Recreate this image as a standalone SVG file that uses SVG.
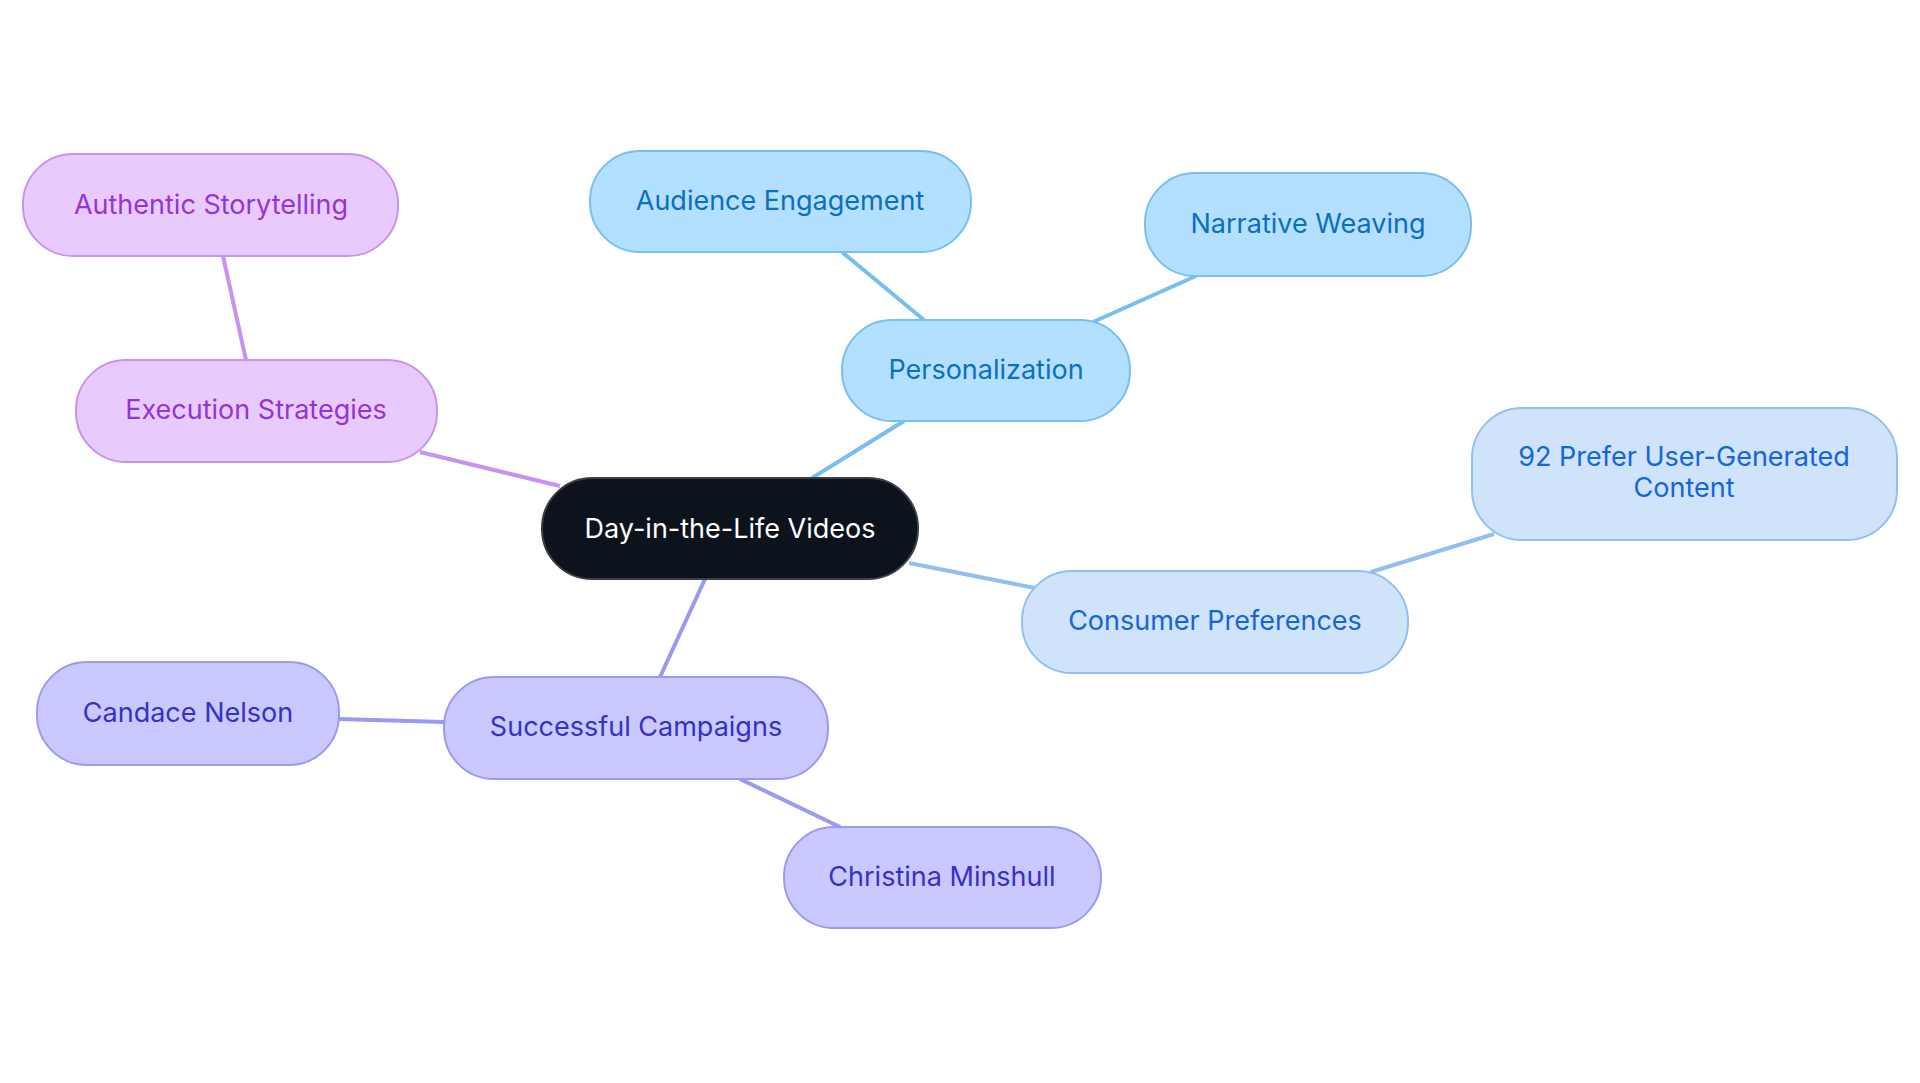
<svg xmlns="http://www.w3.org/2000/svg" width="1920" height="1083" viewBox="0 0 1920 1083">
<style>
text{font-family:Inter,"Noto Sans",sans-serif;font-size:27px;text-anchor:middle;dominant-baseline:central}
.c rect{fill:#0D131C;stroke:#3A3F47;stroke-width:2}.c text{fill:#FFFFFF}
.p rect{fill:#E8CBFC;stroke:#C892F0;stroke-width:2}.p text{fill:#9333D8}
.b rect{fill:#B3E0FF;stroke:#78BFF0;stroke-width:2}.b text{fill:#0B6FC0}
.l rect{fill:#CFE3FB;stroke:#93BFF0;stroke-width:2}.l text{fill:#1565D8}
.i rect{fill:#C9C9FF;stroke:#9A9AF0;stroke-width:2}.i text{fill:#3530C8}
#edges line{stroke-width:4}
</style>
<rect width="1920" height="1083" fill="#fff"/>
<g id="edges">
<line x1="812" y1="478" x2="904" y2="421" stroke="#78BFF0"/>
<line x1="560" y1="486" x2="420" y2="452" stroke="#C892F0"/>
<line x1="909" y1="563" x2="1035" y2="588" stroke="#93BFF0"/>
<line x1="705" y1="579" x2="660" y2="677" stroke="#9A9AF0"/>
<line x1="924" y1="320" x2="842" y2="252" stroke="#78BFF0"/>
<line x1="1093" y1="322" x2="1196" y2="276" stroke="#78BFF0"/>
<line x1="246" y1="360" x2="223" y2="256" stroke="#C892F0"/>
<line x1="1371" y1="572" x2="1494" y2="534" stroke="#93BFF0"/>
<line x1="444" y1="722" x2="339" y2="719" stroke="#9A9AF0"/>
<line x1="740" y1="779" x2="840" y2="827" stroke="#9A9AF0"/>
</g>
<g id="center" class="c"><rect x="542" y="478" width="376" height="101" rx="50"/><text x="730" y="528">Day-in-the-Life Videos</text></g>
<g id="authentic" class="p"><rect x="23" y="154" width="375" height="102" rx="50"/><text x="211" y="204">Authentic Storytelling</text></g>
<g id="execution" class="p"><rect x="76" y="360" width="361" height="102" rx="50"/><text x="256" y="409">Execution Strategies</text></g>
<g id="audience" class="b"><rect x="590" y="151" width="381" height="101" rx="50"/><text x="780" y="200">Audience Engagement</text></g>
<g id="narrative" class="b"><rect x="1145" y="173" width="326" height="103" rx="50"/><text x="1308" y="223">Narrative Weaving</text></g>
<g id="personalization" class="b"><rect x="842" y="320" width="288" height="101" rx="50"/><text x="986" y="369">Personalization</text></g>
<g id="prefer" class="l"><rect x="1472" y="408" width="425" height="132" rx="50"/><text x="1684" y="456">92 Prefer User-Generated</text><text x="1684" y="487">Content</text></g>
<g id="consumer" class="l"><rect x="1022" y="571" width="386" height="102" rx="50"/><text x="1215" y="620">Consumer Preferences</text></g>
<g id="successful" class="i"><rect x="444" y="677" width="384" height="102" rx="50"/><text x="636" y="726">Successful Campaigns</text></g>
<g id="candace" class="i"><rect x="37" y="662" width="302" height="103" rx="50"/><text x="188" y="712">Candace Nelson</text></g>
<g id="christina" class="i"><rect x="784" y="827" width="317" height="101" rx="50"/><text x="942" y="876">Christina Minshull</text></g>
</svg>
